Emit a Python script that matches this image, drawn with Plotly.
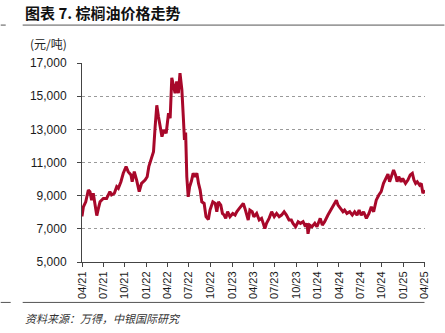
import plotly.graph_objects as go

# ---- data ----
dates = [
    "2021-04-01", "2021-04-07", "2021-04-17", "2021-04-28", "2021-05-05", "2021-05-12", "2021-05-19",
    "2021-05-27", "2021-06-03", "2021-06-10", "2021-06-17", "2021-07-01", "2021-07-15", "2021-07-29",
    "2021-08-05", "2021-08-17", "2021-08-27", "2021-09-03", "2021-09-14", "2021-09-24", "2021-10-06",
    "2021-10-15", "2021-10-27", "2021-11-01", "2021-11-10", "2021-11-20", "2021-12-01", "2021-12-11",
    "2021-12-26", "2022-01-04", "2022-01-11", "2022-01-22", "2022-01-31", "2022-02-07", "2022-02-14",
    "2022-02-21", "2022-02-28", "2022-03-08", "2022-03-17", "2022-03-26", "2022-04-05", "2022-04-12",
    "2022-04-19", "2022-04-26", "2022-05-03", "2022-05-10", "2022-05-17", "2022-05-24", "2022-06-01",
    "2022-06-08", "2022-06-12", "2022-06-17", "2022-06-22", "2022-06-28", "2022-07-04", "2022-07-12",
    "2022-07-19", "2022-07-27", "2022-08-04", "2022-08-11", "2022-08-18", "2022-08-25", "2022-09-04",
    "2022-09-12", "2022-09-22", "2022-09-29", "2022-10-11", "2022-10-21", "2022-10-28", "2022-11-04",
    "2022-11-14", "2022-11-21", "2022-11-28", "2022-12-05", "2022-12-13", "2022-12-23", "2023-01-04",
    "2023-01-14", "2023-01-21", "2023-02-01", "2023-02-10", "2023-02-18", "2023-02-25", "2023-03-04",
    "2023-03-11", "2023-03-18", "2023-03-28", "2023-04-04", "2023-04-16", "2023-04-27", "2023-05-07",
    "2023-05-14", "2023-05-21", "2023-05-28", "2023-06-08", "2023-06-19", "2023-06-30", "2023-07-10",
    "2023-07-21", "2023-07-31", "2023-08-11", "2023-08-21", "2023-09-01", "2023-09-11", "2023-09-18",
    "2023-09-29", "2023-10-10", "2023-10-20", "2023-10-31", "2023-11-10", "2023-11-17", "2023-11-21",
    "2023-11-28", "2023-12-08", "2023-12-20", "2023-12-29", "2024-01-07", "2024-01-12", "2024-01-21",
    "2024-01-31", "2024-02-14", "2024-02-29", "2024-03-14", "2024-03-21", "2024-03-28", "2024-04-07",
    "2024-04-18", "2024-04-25", "2024-05-05", "2024-05-17", "2024-05-28", "2024-06-07", "2024-06-17",
    "2024-06-26", "2024-07-05", "2024-07-15", "2024-07-27", "2024-08-07", "2024-08-17", "2024-08-27",
    "2024-09-07", "2024-09-18", "2024-09-28", "2024-10-08", "2024-10-17", "2024-10-27", "2024-11-03",
    "2024-11-10", "2024-11-20", "2024-11-28", "2024-12-05", "2024-12-12", "2024-12-22", "2024-12-29",
    "2025-01-10", "2025-01-20", "2025-01-30", "2025-02-08", "2025-02-15", "2025-02-22", "2025-03-01",
    "2025-03-11", "2025-03-18", "2025-03-25", "2025-04-01",
]
prices = [
    7750, 8330, 8630, 9340, 9240, 8730, 9140,
    8330, 7800, 8230, 8630, 8830, 8830, 9240,
    9040, 9140, 9540, 9440, 9840, 10350, 10750,
    10450, 10250, 9840, 10450, 9940, 9240, 9740,
    9940, 10140, 10750, 11250, 11650, 13170, 14450,
    13770, 13170, 12560, 12970, 12760, 13970, 13670,
    16100, 15580, 15180, 15890, 15180, 16390, 15380,
    13500, 12360, 12800, 10140, 8930, 9540, 9900,
    10350, 10140, 10350, 9740, 9340, 8630, 8530,
    7730, 7560, 8130, 8630, 8530, 8030, 8630,
    8430, 7930, 7830, 7630, 8030, 7730, 7930,
    7830, 8030, 8230, 8400, 8530, 8230, 7830,
    7530, 8130, 8030, 7730, 7930, 7530, 7630,
    7330, 7020, 7330, 7630, 8030, 7730, 7930,
    7730, 7830, 8030, 7830, 7530, 7530, 7330,
    7130, 7430, 7330, 7430, 7130, 7330, 6700,
    7230, 7130, 7330, 7130, 7530, 7630, 7230,
    7430, 7830, 8230, 8530, 8730, 8430, 8230,
    8030, 8130, 7930, 8030, 7830, 8030, 7830,
    8130, 7830, 8030, 7630, 7930, 8330, 8030,
    8730, 9040, 9240, 9740, 10040, 10300, 9840,
    10140, 10550, 10250, 9840, 10140, 9840, 10040,
    9740, 9940, 10250, 10350, 9940, 9740, 9840,
    9640, 9740, 9140, 9340,
]
tick_dates = [
    "2021-04-01", "2021-07-01", "2021-10-01", "2022-01-01", "2022-04-01", "2022-07-01",
    "2022-10-01", "2023-01-01", "2023-04-01", "2023-07-01", "2023-10-01", "2024-01-01",
    "2024-04-01", "2024-07-01", "2024-10-01", "2025-01-01", "2025-04-01",
]
tick_labels = [
    "04/21", "07/21", "10/21", "01/22", "04/22", "07/22", "10/22", "01/23", "04/23",
    "07/23", "10/23", "01/24", "04/24", "07/24", "10/24", "01/25", "04/25",
]
y_ticks = [5000, 7000, 9000, 11000, 13000, 15000, 17000]
title_text = "图表 7. 棕榈油价格走势"
unit_text = "(元/吨)"
source_text = "资料来源：万得，中银国际研究"

# ---- layout geometry (pixels) ----
W, H = 445, 333
L, R, T, B = 81.5, 425.5, 63.3, 261.7

def px(x):
    return (x - L) / (R - L)

def py(y):
    return (B - y) / (B - T)

fig = go.Figure()
fig.add_trace(go.Scatter(
    x=dates, y=prices, mode="lines",
    line=dict(color="#A8082A", width=3),
    hoverinfo="skip",
))

axis_font = dict(family="Liberation Sans, Arial, sans-serif", size=12, color="#1a1a1a")

fig.update_layout(
    width=W, height=H,
    margin=dict(l=L, r=W - R, t=T, b=H - B, pad=0),
    paper_bgcolor="white", plot_bgcolor="white",
    showlegend=False,
    font=axis_font,
    xaxis=dict(
        type="date",
        range=["2021-04-01", "2025-04-03"],
        tickmode="array", tickvals=tick_dates, ticktext=tick_labels,
        tickangle=-90, tickfont=dict(size=11, family="Liberation Sans, Arial, sans-serif", color="#1a1a1a"),
        ticks="outside", ticklen=4, tickcolor="#444", tickwidth=1,
        showline=True, linecolor="#444", linewidth=1,
        showgrid=False, zeroline=False,
        fixedrange=True,
    ),
    yaxis=dict(
        range=[5000, 17000],
        tickmode="array", tickvals=y_ticks, tickformat=",",
        ticks="outside", ticklen=4, tickcolor="#444", tickwidth=1,
        ticklabelstandoff=8,
        showline=True, linecolor="#444", linewidth=1,
        showgrid=True, gridcolor="#9a9a9a", griddash="dot", gridwidth=1,
        zeroline=False,
        fixedrange=True,
    ),
)

# title
fig.add_annotation(
    x=px(22), y=py(13), xref="paper", yref="paper",
    text="<b>" + title_text + "</b>", showarrow=False,
    xanchor="left", yanchor="middle",
    font=dict(family="Noto Sans CJK SC", size=15, color="#111"),
)
# unit
fig.add_annotation(
    x=px(27), y=py(44), xref="paper", yref="paper",
    text=unit_text, showarrow=False, xanchor="left", yanchor="middle",
    font=dict(family="Noto Sans CJK SC", size=12, color="#222"),
)
# source
fig.add_annotation(
    x=px(22), y=py(318), xref="paper", yref="paper",
    text="<i>" + source_text + "</i>", showarrow=False, xanchor="left", yanchor="middle",
    font=dict(family="Noto Sans CJK SC", size=11, color="#333"),
)

# rules (title underline, bottom rule and neighbouring stubs)
line_style = dict(color="#555", width=1)
for x0, x1, yy in [(22, 445, 25.5), (0, 5, 25.5), (22, 425, 302), (0, 10, 302)]:
    fig.add_shape(type="line", xref="paper", yref="paper",
                  x0=px(x0), x1=px(x1), y0=py(yy), y1=py(yy), line=line_style)

fig.write_html("out.html")
